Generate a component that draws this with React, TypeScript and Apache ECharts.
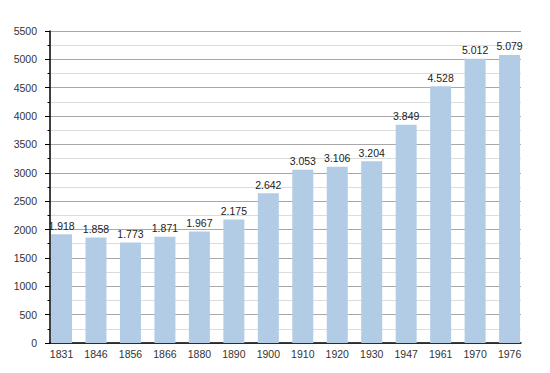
import React, { useEffect, useRef } from "react";
import * as echarts from "echarts";

const years = ["1831", "1846", "1856", "1866", "1880", "1890", "1900", "1910", "1920", "1930", "1947", "1961", "1970", "1976"];
const population = [1918, 1858, 1773, 1871, 1967, 2175, 2642, 3053, 3106, 3204, 3849, 4528, 5012, 5079];

const fmt = (v: number) => {
  const s = String(Math.round(v));
  return s.length > 3 ? s.slice(0, s.length - 3) + "." + s.slice(-3) : s;
};

export default function App() {
  const ref = useRef<HTMLDivElement>(null);
  useEffect(() => {
    if (!ref.current) return;
    const chart = echarts.init(ref.current, null, { renderer: "svg" });
    const font = "'Liberation Sans', Arial, sans-serif";
    chart.setOption({
      animation: false,
      backgroundColor: "#ffffff",
      textStyle: { fontFamily: font },
      grid: [
        { left: 50, right: 29, top: 31, bottom: 30 },
        { left: 44.3, right: 23.2, top: 31, bottom: 30 },
      ],
      xAxis: [
        {
          type: "category",
          gridIndex: 0,
          data: years,
          axisLine: { show: true, lineStyle: { color: "#000", width: 1.5 } },
          axisTick: { show: false },
          axisLabel: { show: false },
          splitLine: { show: false },
        },
        {
          type: "category",
          gridIndex: 1,
          data: years,
          axisLine: { show: false },
          axisTick: { show: false },
          axisLabel: { show: true, color: "#333", fontSize: 10.5, margin: 5, fontFamily: font },
          splitLine: { show: false },
        },
      ],
      yAxis: [
        {
          type: "value",
          gridIndex: 0,
          min: 0,
          max: 5500,
          interval: 500,
          axisLine: { show: true, lineStyle: { color: "#000", width: 1.5 } },
          axisTick: { show: true, length: 5, lineStyle: { color: "#000" } },
          minorTick: { show: true, splitNumber: 2, length: 2.5, lineStyle: { color: "#000" } },
          axisLabel: { color: "#333", fontSize: 10.5, margin: 13, fontFamily: font, formatter: (v: number) => String(v) },
          splitLine: { show: true, lineStyle: { color: "#a8a8a8", width: 1 } },
          minorSplitLine: { show: true, lineStyle: { color: "#dcdcdc", width: 1 } },
        },
        {
          type: "value",
          gridIndex: 1,
          min: 0,
          max: 5500,
          interval: 500,
          show: false,
          splitLine: { show: false },
        },
      ],
      series: [
        {
          type: "bar",
          xAxisIndex: 1,
          yAxisIndex: 1,
          data: population,
          barWidth: 21,
          itemStyle: { color: "#b3cce6" },
          label: {
            show: true,
            position: "top",
            distance: 3,
            color: "#222",
            fontSize: 10.5,
            fontFamily: font,
            formatter: (p: any) => fmt(p.value),
          },
        },
      ],
    });
    return () => chart.dispose();
  }, []);
  return (
    <div
      ref={ref}
      style={{ position: "absolute", left: 0, top: 0, width: 550, height: 373 }}
    />
  );
}
